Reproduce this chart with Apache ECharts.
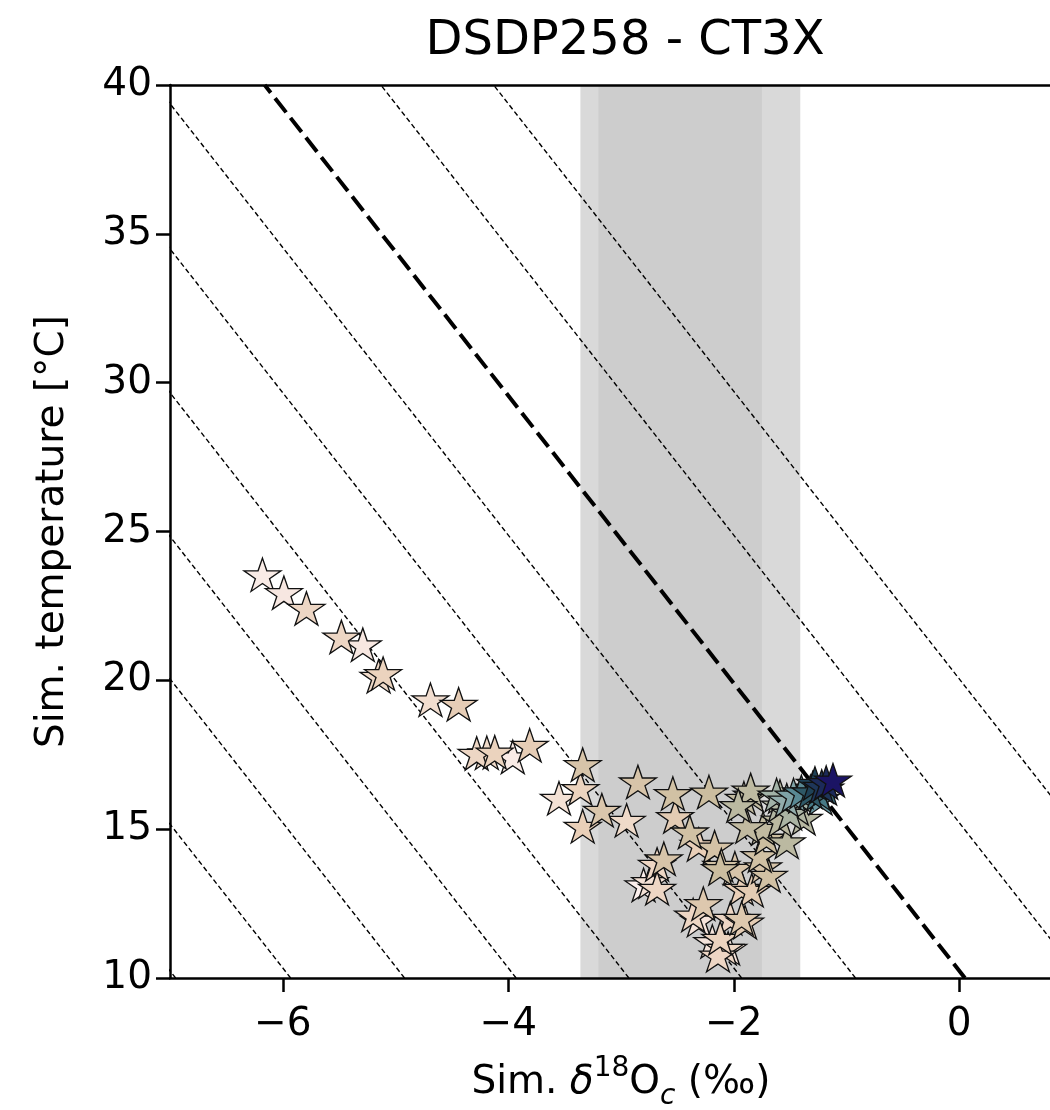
<!DOCTYPE html>
<html><head><meta charset="utf-8">
<script src="https://cdn.jsdelivr.net/npm/echarts@6/dist/echarts.min.js"></script>
<style>html,body{margin:0;padding:0;background:#fff}#chart{width:1050px;height:1110px}</style>
</head><body><div id="chart"></div>
<script>
// ---- data ----
const starX = [-6.18,-5.99,-5.79,-5.48,-5.29,-5.11,-5.15,-4.69,-4.44,-4.12,-4.19,-3.96,-3.81,-3.34,-3.55,-3.36,-3.17,-3.34,-2.95,-2.85,
  -2.54,-2.22,-2.52,-2.39,-2.62,-2.68,-2.80,-2.74,-2.68,-2.27,-2.36,-2.31,-2.12,-2.19,-2.08,-2.03,-1.96,-2.17,-2.31,-2.11,
  -2.12,-1.93,-1.99,-1.84,-1.69,-1.90,-2.05,-1.77,-1.84,-1.59,-1.41,-1.30,-1.12,-1.28,-1.32,-1.40,-1.47,-1.53,-1.62,-1.59,
  -1.91,-1.85,-1.74,-1.53,-1.59,-1.38,-1.44,-1.88,-1.71,-1.74,-1.50,-1.23,-1.19,-1.22,-1.18,-1.25,-2.14,-1.93,-4.28];
const starY = [23.49,22.89,22.36,21.40,21.14,20.17,20.08,19.29,19.14,17.53,17.51,17.37,17.76,17.11,15.98,16.31,15.58,15.04,15.24,16.53,
  16.14,16.19,15.37,14.85,13.95,13.76,13.07,13.18,12.96,12.44,12.06,11.89,11.28,11.17,10.94,11.95,15.74,14.34,14.43,13.73,
  13.62,12.96,13.63,12.89,13.39,11.82,10.94,14.06,16.09,16.04,16.05,16.32,16.59,16.48,16.20,16.20,16.09,15.92,16.09,15.75,
  15.98,16.26,14.97,14.52,15.25,15.31,15.64,15.03,14.64,13.68,15.48,15.98,16.32,16.38,16.51,16.14,10.71,11.95,17.49];
const starC = [0.98,0.97,0.92,0.92,0.97,0.91,0.93,0.94,0.89,0.91,0.93,0.98,0.89,0.84,0.95,0.91,0.85,0.90,0.93,0.84,
  0.82,0.80,0.88,0.82,0.84,0.92,0.99,0.95,0.92,0.86,0.92,0.96,0.91,0.96,0.92,0.92,0.74,0.83,0.90,0.82,
  0.80,0.90,0.84,0.88,0.82,0.88,0.96,0.82,0.76,0.72,0.65,0.55,0.00,0.20,0.30,0.45,0.55,0.60,0.65,0.70,
  0.76,0.75,0.76,0.74,0.74,0.72,0.70,0.76,0.80,0.84,0.68,0.50,0.35,0.15,0.10,0.40,0.92,0.86,0.92];

// dashed iso-lines: x where each line meets T=10 and T=40
const thinLineX10 = [-6.95,-5.93,-4.92,-3.93,-2.93,-1.93,-0.92,1.08,2.08];
const thinLineX40 = [-13.16,-12.14,-11.13,-10.14,-9.14,-8.14,-7.13,-5.13,-4.13];
const thickLineX10 = 0.05;
const thickLineX40 = -6.16;
const lineT = [10, 40];

// shaded ranges
const outerBand = [-3.36, -1.41];
const innerBand = [-3.20, -1.75];

const xTicks = [-6, -4, -2, 0];
const yTicks = [10, 15, 20, 25, 30, 35, 40];

// ---- chart ----
const FONT = 'DejaVu Sans';
const starPath = 'path://M100,0 L122.45,69.1 L195.11,69.1 L136.33,111.8 L158.78,180.9 L100,138.2 L41.22,180.9 L63.67,111.8 L4.89,69.1 L77.55,69.1 Z';
const lapaz = ['#1b1464','#1c2a5a','#1f4257','#2e5866','#477a86','#6a98a2','#93adac','#b1b6a2','#cbbd9f','#e9cfb8','#fdf2f2'];

const stars = starX.map((x, i) => [x, starY[i], starC[i]]).sort((a, b) => b[2] - a[2]);

const series = [];
series.push({
  type: 'line', data: [], z: 1, silent: true,
  markArea: {
    silent: true,
    data: [
      [{ xAxis: outerBand[0], itemStyle: { color: '#d9d9d9' } }, { xAxis: outerBand[1] }],
      [{ xAxis: innerBand[0], itemStyle: { color: '#cdcdcd' } }, { xAxis: innerBand[1] }]
    ]
  }
});
thinLineX10.forEach((x10, i) => {
  series.push({
    type: 'line', z: 2, silent: true, symbol: 'none', clip: true,
    data: [[x10, lineT[0]], [thinLineX40[i], lineT[1]]],
    lineStyle: { color: '#000', width: 1.4, type: [5, 3] }
  });
});
series.push({
  type: 'line', z: 3, silent: true, symbol: 'none', clip: true,
  data: [[thickLineX10, lineT[0]], [thickLineX40, lineT[1]]],
  lineStyle: { color: '#000', width: 4, type: [18, 7] }
});
series.push({
  type: 'scatter', z: 5, silent: true,
  symbol: starPath, symbolKeepAspect: true, symbolSize: [37, 35], symbolOffset: [0, -1.7],
  data: stars,
  itemStyle: { borderColor: '#111', borderWidth: 1.3, opacity: 1 }
});

const chart = echarts.init(document.getElementById('chart'), null, { renderer: 'canvas' });
chart.setOption({
  animation: false,
  backgroundColor: '#fff',
  title: {
    text: 'DSDP258 - CT3X', left: 620, top: 13, textAlign: 'center',
    textStyle: { fontFamily: FONT, fontSize: 48, fontWeight: 'normal', color: '#000' }
  },
  grid: { left: 170, top: 85, bottom: 132, right: -22, containLabel: false, outerBoundsMode: 'none' },
  visualMap: {
    show: false, type: 'continuous', dimension: 2, min: 0, max: 1, seriesIndex: series.length - 1,
    inRange: { color: lapaz }
  },
  xAxis: [{
    type: 'value', min: -7, max: 1, position: 'bottom', z: 10,
    splitLine: { show: false },
    axisLine: { show: true, onZero: false, lineStyle: { color: '#000', width: 2.5 } },
    axisTick: { show: true, customValues: xTicks, length: 14, lineStyle: { color: '#000', width: 2.5 } },
    axisLabel: { customValues: xTicks, margin: 27, fontFamily: FONT, fontSize: 39, color: '#000',
      formatter: v => String(v).replace('-', '\u2212') },
    name: 'Sim. {d|δ}{sup|18}O{sub|c} (‰)', nameLocation: 'middle', nameGap: 77,
    nameTextStyle: { fontFamily: FONT, fontSize: 39, color: '#000', lineHeight: 56,
      rich: {
        d: { fontFamily: FONT, fontSize: 39, fontStyle: 'italic', color: '#000', lineHeight: 56 },
        sup: { fontFamily: FONT, fontSize: 28, color: '#000', lineHeight: 30, verticalAlign: 'top' },
        sub: { fontFamily: FONT, fontSize: 28, fontStyle: 'italic', color: '#000', lineHeight: 30, verticalAlign: 'bottom' }
      } }
  }, {
    type: 'value', min: -7, max: 1, position: 'top', z: 10,
    splitLine: { show: false }, axisTick: { show: false }, axisLabel: { show: false },
    axisLine: { show: true, onZero: false, lineStyle: { color: '#000', width: 2.5 } }
  }],
  yAxis: [{
    type: 'value', min: 10, max: 40, interval: 5, z: 10,
    splitLine: { show: false },
    axisLine: { show: true, onZero: false, lineStyle: { color: '#000', width: 2.5 } },
    axisTick: { show: true, length: 14, lineStyle: { color: '#000', width: 2.5 } },
    axisLabel: { margin: 18, fontFamily: FONT, fontSize: 39, color: '#000' },
    name: 'Sim. temperature [°C]', nameLocation: 'middle', nameRotate: 90, nameGap: 98,
    nameTextStyle: { fontFamily: FONT, fontSize: 39, color: '#000' }
  }],
  series: series
});
</script></body></html>
